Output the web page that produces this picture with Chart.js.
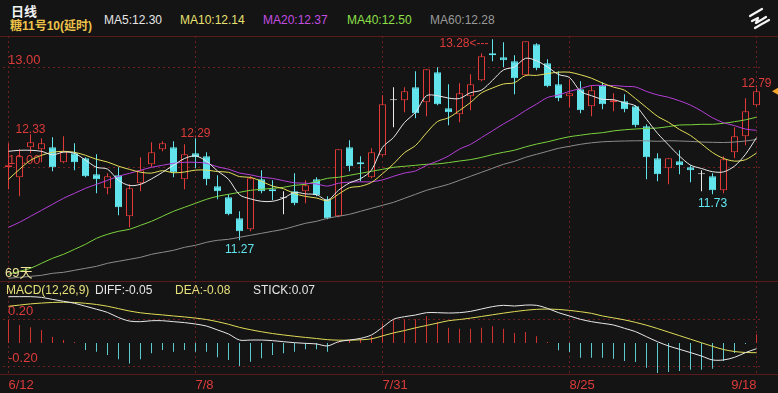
<!DOCTYPE html>
<html><head><meta charset="utf-8">
<script src="https://cdn.jsdelivr.net/npm/chart.js@4.4.1/dist/chart.umd.min.js"></script>
<style>
html,body{margin:0;padding:0;background:#141414;}
body{width:778px;height:393px;position:relative;overflow:hidden;font-family:"Liberation Sans",Arial,"Noto Sans CJK SC",sans-serif;}
.t{position:absolute;white-space:nowrap;line-height:1;}
.hl{position:absolute;left:0;width:778px;height:1px;background:#5a1a1a;}
canvas{position:absolute;left:0;}
</style></head><body>
<div class="t" style="left:11px;top:4px;font-size:13px;font-weight:bold;color:#f2f2f2;font-family:'Noto Sans CJK SC',sans-serif">日线</div>
<div class="t" style="left:10px;top:20px;font-size:12px;font-weight:bold;color:#ecc24a">糖11号10(延时)</div>
<div class="t" id="lma5" style="left:104px;top:14px;font-size:12px;color:#e6e6e6"></div>
<div class="t" id="lma10" style="left:180px;top:14px;font-size:12px;color:#e8e070"></div>
<div class="t" id="lma20" style="left:263px;top:14px;font-size:12px;color:#c24ee0"></div>
<div class="t" id="lma40" style="left:347px;top:14px;font-size:12px;color:#8ee04a"></div>
<div class="t" id="lma60" style="left:430px;top:14px;font-size:12px;color:#9a9a9a"></div>
<svg style="position:absolute;left:747px;top:7px" width="26" height="24" viewBox="0 0 26 24">
  <g stroke="#f4f4f4" stroke-width="2.2" fill="none" stroke-linecap="round" stroke-linejoin="round">
    <path d="M3 9 L15 2"/>
    <path d="M5 14 L11 11 L9 16 L19 10"/>
    <path d="M8 21 L22 13"/>
  </g>
</svg>
<div class="hl" style="top:36px"></div>
<canvas id="main" width="778" height="245" style="top:36px"></canvas>
<div class="t" id="days" style="left:5px;top:266px;font-size:13px;color:#eee49a;font-family:'Liberation Sans','Noto Sans CJK SC',sans-serif"></div>
<div class="hl" style="top:281px"></div>
<canvas id="macd" width="778" height="112" style="top:281px"></canvas>
<div class="t" style="left:6px;top:284px;font-size:12px;color:#e6e07a">MACD(12,26,9)</div>
<div class="t" id="ldiff" style="left:95px;top:284px;font-size:12px;color:#e6e6e6"></div>
<div class="t" id="ldea" style="left:175px;top:284px;font-size:12px;color:#e6e07a"></div>
<div class="t" id="lstick" style="left:253px;top:284px;font-size:12px;color:#e6e6e6"></div>
<div class="hl" style="top:374px"></div>
<script>
const dates = ['6/12','6/13','6/16','6/17','6/18','6/19','6/20','6/23','6/24','6/25','6/26','6/27','6/30','7/1','7/2','7/3','7/7','7/8','7/9','7/10','7/11','7/14','7/15','7/16','7/17','7/18','7/21','7/22','7/23','7/24','7/25','7/28','7/29','7/30','7/31','8/1','8/4','8/5','8/6','8/7','8/8','8/11','8/12','8/13','8/14','8/15','8/18','8/19','8/20','8/21','8/22','8/25','8/26','8/27','8/28','8/29','9/2','9/3','9/4','9/5','9/8','9/9','9/10','9/11','9/12','9/15','9/16','9/17','9/18'];
const tickDates = ['6/12','7/8','7/31','8/25','9/18'];

const open = [12.00,11.90,12.20,12.18,12.20,12.05,12.14,12.09,11.93,11.79,
  11.92,11.51,11.84,12.03,12.18,12.20,11.88,12.14,12.11,11.81,
  11.70,11.49,11.38,11.88,11.78,11.69,11.76,11.76,11.88,11.68,
  11.51,12.20,12.05,11.90,12.12,12.67,12.67,12.80,12.65,12.95,
  12.59,12.53,12.71,12.87,13.14,13.10,13.06,12.92,13.23,13.04,
  12.83,12.71,12.78,12.61,12.82,12.65,12.66,12.61,12.41,12.09,
  11.99,12.06,12.00,11.93,11.91,11.77,12.15,12.31,12.62];
const high = [12.24,12.18,12.33,12.29,12.30,12.31,12.24,12.10,12.13,11.94,
  12.00,11.83,12.10,12.25,12.26,12.26,12.23,12.29,12.15,11.92,
  11.73,11.56,11.91,11.97,11.87,11.76,11.94,11.87,11.90,11.71,
  12.18,12.27,12.11,12.19,12.72,12.80,12.80,12.96,12.98,13.00,
  12.83,12.84,12.93,13.14,13.28,13.25,13.12,13.26,13.24,13.08,
  12.96,12.88,12.86,12.82,12.85,12.74,12.73,12.62,12.43,12.14,
  12.09,12.17,12.02,11.97,11.94,12.11,12.40,12.69,12.79];
const low = [11.78,11.71,12.14,12.05,11.96,12.04,11.97,11.90,11.74,11.73,
  11.52,11.40,11.76,12.00,12.16,11.90,11.78,11.99,11.82,11.68,
  11.52,11.27,11.36,11.74,11.67,11.53,11.62,11.64,11.71,11.48,
  11.50,11.96,11.86,11.89,12.11,12.40,12.55,12.49,12.51,12.62,
  12.42,12.45,12.57,12.86,13.06,13.00,12.73,12.91,12.97,12.80,
  12.66,12.60,12.54,12.51,12.58,12.56,12.55,12.40,11.88,11.86,
  11.83,11.93,11.85,11.76,11.73,11.74,12.09,12.22,12.61];
const close = [12.02,12.11,12.25,12.24,12.00,12.16,12.05,11.91,11.88,11.91,
  11.60,11.79,11.97,12.15,12.24,11.95,12.13,12.10,11.88,11.76,
  11.53,11.36,11.89,11.76,11.76,11.69,11.64,11.82,11.72,11.49,
  12.18,12.01,12.03,12.15,12.63,12.67,12.76,12.54,12.98,12.63,
  12.55,12.74,12.83,13.11,13.12,13.07,12.89,13.26,12.99,12.81,
  12.69,12.74,12.57,12.77,12.63,12.67,12.58,12.42,12.10,11.93,
  12.09,12.02,11.97,11.93,11.77,12.08,12.31,12.56,12.76];

const ma5 = [12.16,12.17,12.17,12.16,12.124,12.152,12.14,12.072,12.00,11.982,
  11.87,11.818,11.83,11.884,11.95,12.02,12.088,12.114,12.06,11.964,
  11.88,11.726,11.684,11.66,11.66,11.692,11.748,11.734,11.726,11.672,
  11.77,11.844,11.886,11.972,12.20,12.298,12.448,12.55,12.716,12.716,
  12.692,12.688,12.746,12.772,12.87,12.974,13.004,13.09,13.066,13.004,
  12.928,12.898,12.76,12.716,12.68,12.676,12.644,12.614,12.48,12.34,
  12.224,12.112,12.022,11.988,11.956,11.954,12.012,12.13,12.296];
const ma10 = [11.88,11.98,12.07,12.12,12.15,12.16,12.15,12.12,12.08,12.053,
  12.011,11.979,11.951,11.942,11.966,11.945,11.953,11.972,11.972,11.957,
  11.95,11.907,11.899,11.86,11.812,11.786,11.737,11.709,11.693,11.666,
  11.731,11.796,11.81,11.849,11.936,12.034,12.146,12.218,12.344,12.458,
  12.495,12.568,12.648,12.744,12.793,12.833,12.846,12.918,12.919,12.937,
  12.951,12.951,12.925,12.891,12.842,12.802,12.771,12.687,12.598,12.51,
  12.45,12.378,12.318,12.234,12.148,12.089,12.062,12.076,12.142];
const ma20 = [11.40,11.45,11.51,11.57,11.63,11.69,11.74,11.79,11.83,11.87,
  11.91,11.94,11.97,12.00,12.02,12.04,12.05,12.05,12.04,12.005,
  11.981,11.943,11.925,11.901,11.889,11.866,11.845,11.841,11.833,11.812,
  11.841,11.852,11.855,11.855,11.874,11.91,11.942,11.964,12.019,12.062,
  12.113,12.182,12.229,12.297,12.365,12.434,12.496,12.568,12.632,12.698,
  12.723,12.76,12.787,12.818,12.818,12.818,12.809,12.803,12.759,12.724,
  12.70,12.665,12.622,12.563,12.495,12.446,12.417,12.382,12.37];
const ma40 = [10.93,10.96,10.99,11.04,11.09,11.13,11.18,11.23,11.29,11.33,
  11.36,11.38,11.42,11.46,11.51,11.56,11.60,11.64,11.68,11.71,
  11.73,11.75,11.77,11.78,11.79,11.80,11.82,11.83,11.86,11.89,
  11.90,11.92,11.94,11.96,11.98,12.00,12.01,12.02,12.03,12.034,
  12.047,12.063,12.077,12.099,12.127,12.15,12.171,12.204,12.232,12.255,
  12.282,12.306,12.321,12.336,12.346,12.364,12.375,12.383,12.389,12.393,
  12.407,12.423,12.425,12.43,12.43,12.44,12.456,12.475,12.501];
const ma60 = [10.89,10.90,10.91,10.92,10.94,10.95,10.97,10.99,11.01,11.04,
  11.06,11.08,11.10,11.13,11.15,11.17,11.20,11.22,11.25,11.27,
  11.28,11.30,11.32,11.34,11.36,11.38,11.41,11.44,11.46,11.49,
  11.51,11.53,11.56,11.59,11.62,11.65,11.69,11.73,11.77,11.80,
  11.83,11.87,11.91,11.95,11.99,12.03,12.06,12.10,12.13,12.16,
  12.19,12.21,12.23,12.245,12.255,12.26,12.263,12.265,12.265,12.26,
  12.265,12.263,12.259,12.253,12.25,12.248,12.253,12.263,12.278];

const diff = [0.391,0.391,0.391,0.385,0.368,0.352,0.335,0.31,0.285,0.258,
  0.215,0.185,0.18,0.188,0.188,0.18,0.172,0.16,0.143,0.11,
  0.076,0.025,0.025,0.025,0.02,0.011,0.003,-0.003,-0.008,-0.025,
  0.011,0.025,0.039,0.068,0.132,0.2,0.222,0.236,0.256,0.256,
  0.253,0.256,0.267,0.287,0.307,0.318,0.312,0.32,0.318,0.292,
  0.256,0.228,0.2,0.18,0.166,0.152,0.124,0.096,0.053,0.011,
  -0.025,-0.053,-0.081,-0.11,-0.143,-0.143,-0.121,-0.081,-0.048];
const dea = [0.31,0.32,0.33,0.337,0.342,0.344,0.342,0.335,0.325,0.31,
  0.29,0.27,0.255,0.245,0.237,0.228,0.22,0.21,0.198,0.18,
  0.158,0.132,0.112,0.095,0.08,0.068,0.057,0.047,0.038,0.028,
  0.024,0.024,0.027,0.035,0.06,0.085,0.105,0.128,0.148,0.168,
  0.188,0.198,0.21,0.224,0.238,0.252,0.265,0.276,0.284,0.286,
  0.283,0.275,0.264,0.25,0.228,0.212,0.195,0.174,0.15,0.122,
  0.092,0.062,0.032,0.002,-0.028,-0.055,-0.072,-0.08,-0.082];
const stick = [0.194,0.152,0.132,0.11,0.053,0.025,0.003,-0.059,-0.073,-0.101,
  -0.138,-0.172,-0.138,-0.087,-0.059,-0.073,-0.059,-0.073,-0.073,-0.121,
  -0.143,-0.194,-0.158,-0.129,-0.101,-0.087,-0.073,-0.053,-0.053,-0.073,
  0.005,0.02,0.04,0.055,0.165,0.191,0.197,0.2,0.225,0.177,
  0.129,0.121,0.121,0.129,0.141,0.121,0.084,0.093,0.056,0.005,
  -0.062,-0.076,-0.124,-0.124,-0.124,-0.132,-0.152,-0.16,-0.208,-0.253,
  -0.245,-0.236,-0.225,-0.225,-0.217,-0.152,-0.084,-0.005,0.073];

const priceTicks = [12, 13];
const macdTicks = [-0.2, 0.2];
const highMarks = [2, 17, 68];
const lowMarks = [21, 64];
const peakMark = 44;

const BG = '#141414', UP = '#e23a38', DOWN = '#62e4ec', FLAT = '#eaeaea';
const RED = '#dc3b3b', GRID = '#6e1f1f';
const STICK_UP = '#cf3330', STICK_DN = '#5ec9cc';
const n = dates.length;
const macdMin = -0.2616, macdMax = 0.5232;

Chart.defaults.font.family = '"Liberation Sans", Arial, sans-serif';

document.getElementById('lma5').textContent = 'MA5:' + ma5[n-1].toFixed(2);
document.getElementById('lma10').textContent = 'MA10:' + ma10[n-1].toFixed(2);
document.getElementById('lma20').textContent = 'MA20:' + ma20[n-1].toFixed(2);
document.getElementById('lma40').textContent = 'MA40:' + ma40[n-1].toFixed(2);
document.getElementById('lma60').textContent = 'MA60:' + ma60[n-1].toFixed(2);
document.getElementById('days').textContent = n + '天';
document.getElementById('ldiff').textContent = 'DIFF:' + diff[n-1].toFixed(2);
document.getElementById('ldea').textContent = 'DEA:' + dea[n-1].toFixed(2);
document.getElementById('lstick').textContent = 'STICK:' + stick[n-1].toFixed(2);

const candleColor = i => close[i] > open[i] ? UP : (close[i] < open[i] ? DOWN : FLAT);
const marked = i => tickDates.includes(dates[i]);
const vGrid = ctx => marked(ctx.index) ? GRID : 'rgba(0,0,0,0)';
const noPad = s => { s.paddingLeft = 0; s.paddingRight = 0; s.paddingTop = 0; s.paddingBottom = 0; };
const maLine = (data, color, order) => ({type:'line', data, borderColor:color, borderWidth:1, pointRadius:0, tension:0.3, order, xAxisID:'x', yAxisID:'y'});

const markPlugin = {
  id: 'marks',
  afterDatasetsDraw(chart) {
    const c = chart.ctx, xs = chart.scales.x, ys = chart.scales.y;
    c.save();
    c.font = '12px "Liberation Sans", Arial, sans-serif';
    c.textBaseline = 'alphabetic';
    c.textAlign = 'center';
    c.fillStyle = RED;
    highMarks.forEach(i => c.fillText(high[i].toFixed(2), xs.getPixelForValue(i), ys.getPixelForValue(high[i]) - 1));
    c.fillStyle = DOWN;
    lowMarks.forEach(i => c.fillText(low[i].toFixed(2), xs.getPixelForValue(i), ys.getPixelForValue(low[i]) + 12.5));
    c.fillStyle = RED;
    c.textAlign = 'right';
    c.fillText(high[peakMark].toFixed(2) + '<---', xs.getPixelForValue(peakMark) - 4, ys.getPixelForValue(high[peakMark]) + 7.5);
    const ly = ys.getPixelForValue(close[n-1]);
    c.fillStyle = '#f3a62a';
    c.beginPath(); c.moveTo(772, ly); c.lineTo(778, ly - 3.5); c.lineTo(778, ly + 3.5); c.closePath(); c.fill();
    c.restore();
  }
};

new Chart(document.getElementById('main'), {
  type: 'bar',
  data: {
    labels: dates,
    datasets: [
      maLine(ma5, '#e8e8e8', 0),
      maLine(ma10, '#e3df5a', 1),
      maLine(ma20, '#b43fd8', 2),
      maLine(ma40, '#7ad23e', 3),
      maLine(ma60, '#8c8c8c', 4),
      {type:'bar', data: open.map((o, i) => [Math.min(o, close[i]), Math.max(o, close[i])]),
       backgroundColor: open.map((o, i) => close[i] > o ? BG : candleColor(i)),
       borderColor: open.map((o, i) => candleColor(i)),
       borderWidth: 1, borderSkipped: false, barThickness: 7, minBarLength: 1, grouped: false, inflateAmount: 0, order: 6, xAxisID:'x', yAxisID:'y'},
      {type:'bar', data: low.map((l, i) => [l, high[i]]),
       backgroundColor: low.map((l, i) => candleColor(i)),
       borderWidth: 0, barThickness: 1, grouped: false, inflateAmount: 0, order: 7, xAxisID:'x', yAxisID:'y'}
    ]
  },
  options: {
    responsive: false, animation: false, devicePixelRatio: 1,
    layout: {padding: {left: 3, right: 16, top: 0, bottom: 0}, autoPadding: false},
    plugins: {legend: {display: false}, tooltip: {enabled: false}},
    scales: {
      x: {type: 'category', offset: true, position: 'bottom',
          grid: {offset: false, drawTicks: false, color: vGrid, lineWidth: 1},
          border: {display: false, dash: [2, 3]},
          ticks: {display: false},
          afterFit: s => { s.height = 0; noPad(s); }},
      y: {type: 'linear', position: 'left', min: 10.863, max: 13.313,
          afterBuildTicks: s => { s.ticks = priceTicks.map(v => ({value: v})); },
          afterFit: s => { s.width = 0; noPad(s); },
          grid: {color: GRID, drawTicks: false, lineWidth: 1},
          border: {display: false, dash: [2, 3]},
          ticks: {mirror: true, padding: 5, labelOffset: -7, color: RED, font: {size: 13}, callback: v => Number(v).toFixed(2)}}
    }
  },
  plugins: [markPlugin]
});

new Chart(document.getElementById('macd'), {
  type: 'bar',
  data: {
    labels: dates,
    datasets: [
      {type:'line', data: diff, borderColor:'#e8e8e8', borderWidth:1, pointRadius:0, tension:0.3, order:0, xAxisID:'x', yAxisID:'y'},
      {type:'line', data: dea, borderColor:'#e0dc58', borderWidth:1, pointRadius:0, tension:0.3, order:1, xAxisID:'x', yAxisID:'y'},
      {type:'bar', data: stick, backgroundColor: stick.map(v => v >= 0 ? STICK_UP : STICK_DN),
       borderWidth:0, barThickness:1, minBarLength:1, grouped:false, inflateAmount:0, order:2, xAxisID:'x', yAxisID:'y'}
    ]
  },
  options: {
    responsive: false, animation: false, devicePixelRatio: 1,
    layout: {padding: {left: 3, right: 16, top: 0, bottom: 0}, autoPadding: false},
    plugins: {legend: {display: false}, tooltip: {enabled: false}},
    scales: {
      x: {type: 'category', offset: true, position: 'bottom',
          grid: {offset: false, drawTicks: false, color: vGrid, lineWidth: 1},
          border: {display: false, dash: [2, 3]},
          ticks: {autoSkip: false, maxRotation: 0, minRotation: 0, align: 'start', padding: 4, color: RED, font: {size: 13},
                  callback: (v, i) => (marked(i) && i < n - 1) ? dates[i] : ''},
          afterFit: s => { s.height = 19; noPad(s); }},
      x2: {type: 'category', offset: true, position: {y: macdMin},
          grid: {display: false, drawTicks: false}, border: {display: false},
          ticks: {autoSkip: false, maxRotation: 0, minRotation: 0, align: 'end', padding: 4, color: RED, font: {size: 13},
                  callback: (v, i) => (i === n - 1 && marked(i)) ? dates[i] : ''},
          afterFit: s => { s.height = 0; noPad(s); }},
      y: {type: 'linear', position: 'left', min: macdMin, max: macdMax,
          afterBuildTicks: s => { s.ticks = macdTicks.map(v => ({value: v})); },
          afterFit: s => { s.width = 0; noPad(s); },
          grid: {color: GRID, drawTicks: false, lineWidth: 1},
          border: {display: false, dash: [2, 3]},
          ticks: {mirror: true, padding: 5, labelOffset: -8, color: RED, font: {size: 13}, callback: v => Number(v).toFixed(2)}}
    }
  }
});
</script>
</body></html>
